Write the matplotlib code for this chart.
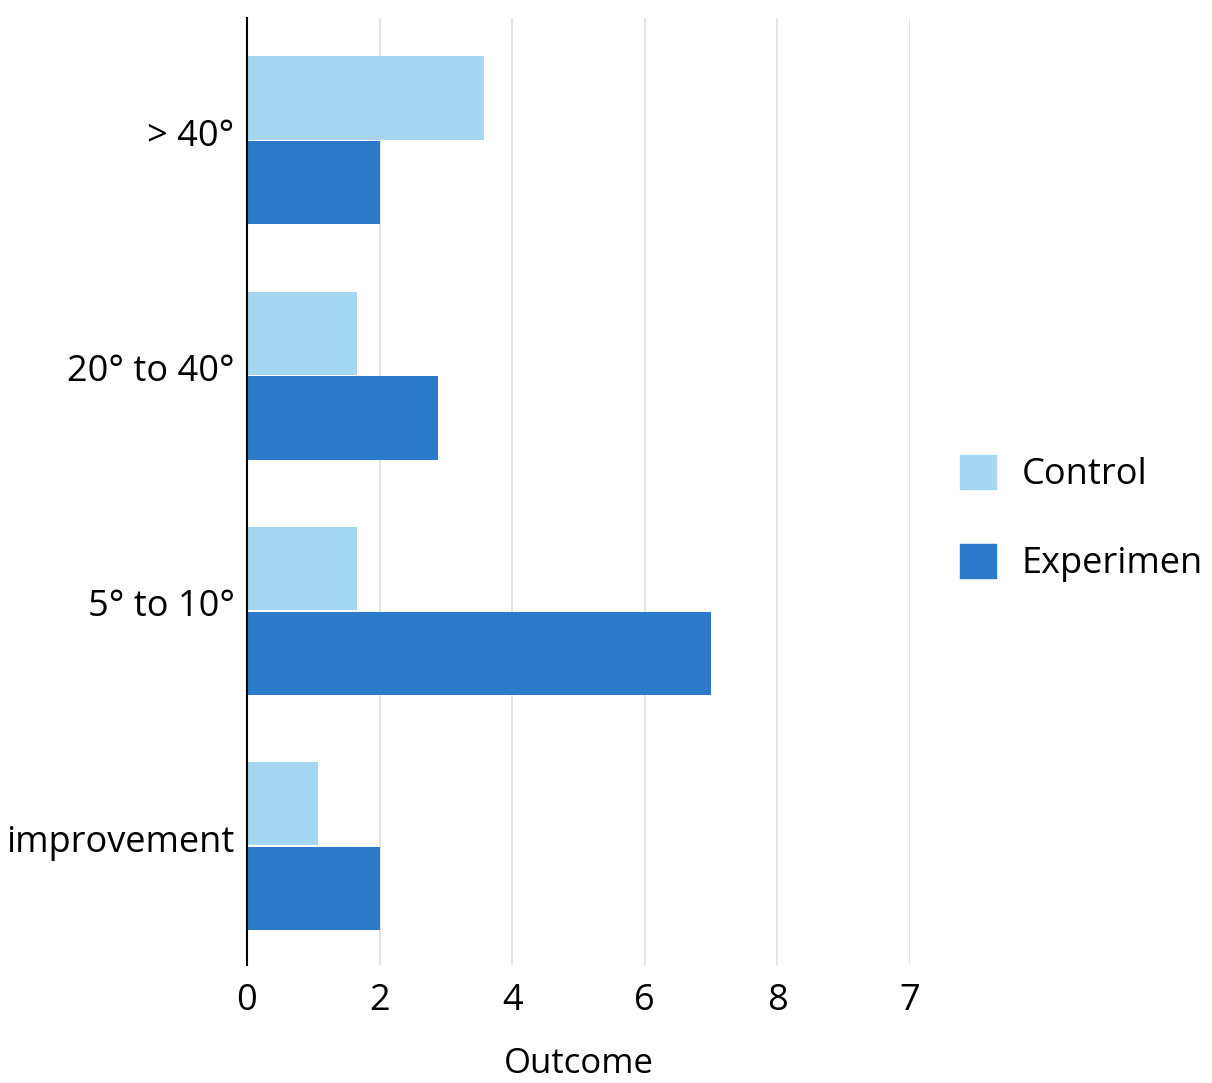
import matplotlib.pyplot as plt
from matplotlib.patches import Patch
from matplotlib.transforms import ScaledTranslation

# data
categories = ['> 40°', '20° to 40°', '5° to 10°', 'improvement']
control = [3.57, 1.66, 1.66, 1.07]
experimental = [2.0, 2.88, 7.0, 2.0]
xticks = [0, 2, 4, 6, 8, 10]
xtick_labels = ['0', '2', '4', '6', '8', '7']

light = '#a5d8f0'
dark = '#2b7bca'

plt.rcParams['font.family'] = ['Open Sans', 'DejaVu Sans']

fig = plt.figure(figsize=(12.12, 10.83), dpi=100)
ax = fig.add_axes([247 / 1212, 118 / 1083, 663 / 1212, 947 / 1083])

ypos = list(range(len(categories)))[::-1]  # first category at the top
h = 0.353
off = 0.18
ax.barh([y + off for y in ypos], control, height=h, color=light, label='Control', zorder=2)
ax.barh([y - off for y in ypos], experimental, height=h, color=dark, label='Experimen', zorder=2)

ax.set_xlim(0, 10)
ax.set_ylim(-0.505, 3.52)
ax.set_xticks(xticks)
ax.set_xticklabels(xtick_labels)
ax.set_yticks(ypos)
ax.set_yticklabels(categories)
ax.tick_params(axis='both', length=0, labelsize=26)
ax.tick_params(axis='x', pad=13)
ax.tick_params(axis='y', pad=9)
# labels sit a bit above the category centre in the reference
for lab in ax.get_yticklabels():
    lab.set_transform(lab.get_transform() + ScaledTranslation(0, 0.08, fig.dpi_scale_trans))
ax.grid(axis='x', color='#e0e0e0', linewidth=1.2, zorder=0)
ax.set_axisbelow(True)
for s in ['top', 'right', 'bottom']:
    ax.spines[s].set_visible(False)
ax.spines['left'].set_color('black')
ax.spines['left'].set_linewidth(1.5)
ax.spines['left'].set_zorder(3)
ax.set_xlabel('Outcome', fontsize=25, labelpad=20)

handles = [Patch(color=light, label='Control'), Patch(color=dark, label='Experimen')]
fig.legend(handles=handles, loc='center left', bbox_to_anchor=(960 / 1212, 0.521),
           frameon=False, fontsize=26, handlelength=1.0, handleheight=1.05,
           handletextpad=0.7, labelspacing=1.4, borderpad=0, borderaxespad=0)

fig.savefig('out.png', dpi=100)
